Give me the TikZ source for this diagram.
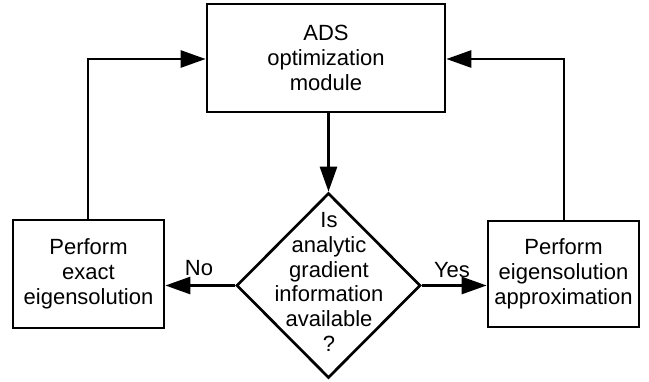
\documentclass[tikz,border=0pt]{standalone}
\usepackage{fontspec}
\setmainfont{Liberation Sans}
\usetikzlibrary{shapes.geometric,arrows.meta}
\begin{document}
\begin{tikzpicture}[x=1pt,y=-1pt,
  box/.style={draw,line width=2.7pt,rectangle,inner sep=0pt,align=center,
    font=\fontsize{22}{25}\selectfont},
  dia/.style={draw,line width=2.7pt,diamond,inner sep=0pt,minimum width=184pt,minimum height=185pt},
  txt/.style={align=center,inner sep=0pt,font=\fontsize{22}{24.7}\selectfont},
  conn/.style={line width=2.7pt,-{Triangle[length=25pt,width=17pt]}},
  lbl/.style={inner sep=0pt,font=\fontsize{22}{25}\selectfont}]
\useasboundingbox (0,0) rectangle (649,381);
\node[box,minimum width=238pt,minimum height=108pt] (ads) at (326,58) {ADS\\optimization\\module};
\node[box,minimum width=151pt,minimum height=108pt] (exact) at (88.5,274) {Perform\\exact\\eigensolution};
\node[box,minimum width=151pt,minimum height=106pt] (approx) at (563.5,274) {Perform\\eigensolution\\approximation};
\node[dia] (q) at (328.5,285.5) {};
\node[txt] (qt) at (329,282) {Is\\analytic\\gradient\\information\\available\\?};
\coordinate (lc) at (88,59);
\coordinate (rc) at (564,59);
\draw[conn] (ads.south -| q.north) -- (q.north);
\draw[conn] (q.west) -- (exact.east |- q.west);
\draw[conn] (q.east) -- (approx.west |- q.east);
\draw[conn] (exact.north -| lc) -- (lc) -- (ads.west |- lc);
\draw[conn] (approx.north -| rc) -- (rc) -- (ads.east |- rc);
\node[lbl] (no) at (199,268) {No};
\node[lbl] (yes) at (452,270) {Yes};
\end{tikzpicture}
\end{document}
